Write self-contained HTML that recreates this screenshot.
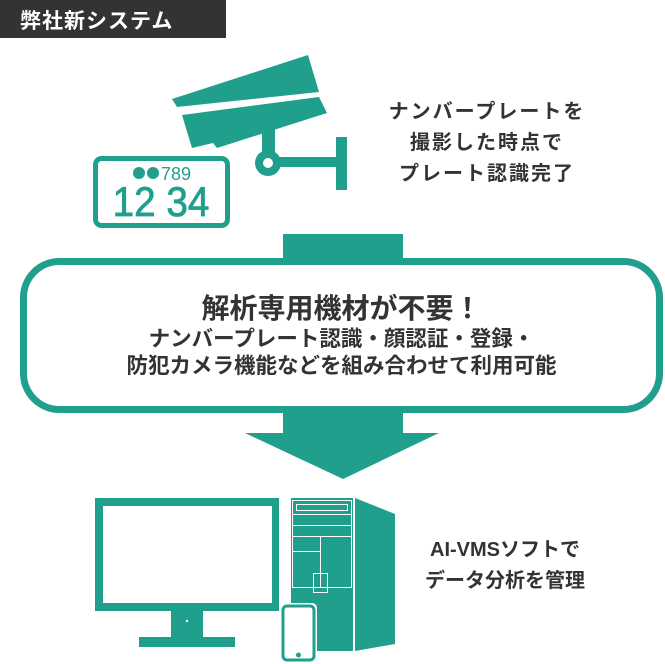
<!DOCTYPE html>
<html><head><meta charset="utf-8"><style>
body{margin:0;width:665px;height:664px;background:#fff;overflow:hidden;position:relative;font-family:"Liberation Sans","Noto Sans CJK JP",sans-serif}
.t{position:absolute;color:#333;font-weight:bold;white-space:nowrap}
</style></head><body>
<div style="position:absolute;left:0;top:0;width:226px;height:38px;background:#333"></div>
<div class="t" style="left:20px;top:5px;font-size:21px;color:#fff;letter-spacing:1px">弊社新システム</div>
<svg width="665" height="664" style="position:absolute;left:0;top:0">
<g fill="#20a08c">
<polygon points="172,99 308,55 319,92 177,107"/>
<polygon points="182,115 319,97 327,113 217,148 213,143 192,148"/>
<rect x="262" y="128" width="13" height="30"/>
<circle cx="268" cy="163" r="13"/>
<rect x="275" y="157" width="62" height="10"/>
<rect x="336" y="137" width="11" height="53"/>
<rect x="283" y="234" width="120" height="30"/>
<rect x="283" y="408" width="120" height="27"/>
<polygon points="245,433 439,433 343,479"/>
<rect x="95" y="498" width="184" height="113"/>
<rect x="171" y="610" width="32" height="28"/>
<rect x="139" y="637" width="96" height="10"/>
<rect x="291" y="498" width="62" height="153"/>
<polygon points="355,498 395,514 395,644 355,651"/>
</g>
<circle cx="268" cy="163" r="5" fill="#fff"/>
<rect x="95.5" y="158.5" width="132" height="67" rx="6" fill="#fff" stroke="#20a08c" stroke-width="5"/>
<circle cx="139" cy="173" r="6" fill="#20a08c"/>
<circle cx="153" cy="173" r="6" fill="#20a08c"/>
<text x="161" y="180" font-size="18" fill="#20a08c" font-family="Liberation Sans">789</text>
<text x="161" y="216" font-size="42" fill="#20a08c" stroke="#20a08c" stroke-width="0.8" text-anchor="middle" font-family="Liberation Sans" transform="translate(161 0) scale(0.92 1) translate(-161 0)">12 34</text>
<rect x="23.5" y="261.5" width="636" height="148" rx="36" fill="#fff" stroke="#20a08c" stroke-width="7"/>
<rect x="103" y="506" width="169" height="97" fill="#fff"/>
<circle cx="187" cy="621" r="1.2" fill="#fff"/>
<g fill="none" stroke="#fff" stroke-width="1">
<rect x="292.5" y="500.5" width="59" height="87"/>
<rect x="296.5" y="504.5" width="51" height="6"/>
<line x1="292" y1="514.5" x2="352" y2="514.5"/>
<line x1="292" y1="525.5" x2="352" y2="525.5"/>
<line x1="292" y1="536.5" x2="352" y2="536.5"/>
<line x1="320.5" y1="536" x2="320.5" y2="588"/>
<line x1="292" y1="551.5" x2="320" y2="551.5"/>
<rect x="313.5" y="573.5" width="14" height="19"/>
</g>
<rect x="353" y="498" width="2" height="153" fill="#fff"/>
<rect x="280" y="603" width="37" height="60" rx="5" fill="#fff"/>
<rect x="283" y="606" width="31" height="54" rx="4" fill="#fff" stroke="#20a08c" stroke-width="3"/>
<circle cx="298.5" cy="655" r="2.5" fill="#20a08c"/>
</svg>
<div class="t" style="left:376px;top:97px;font-size:20px;line-height:31px;text-align:center;width:222px;letter-spacing:2px">ナンバープレートを<br>撮影した時点で<br>プレート認識完了</div>
<div class="t" style="left:0;width:683px;top:287px;font-size:28px;text-align:center">解析専用機材が不要！</div>
<div class="t" style="left:0;width:683px;top:326px;font-size:21.5px;line-height:27px;text-align:center">ナンバープレート認識・顔認証・登録・<br>防犯カメラ機能などを組み合わせて利用可能</div>
<div class="t" style="left:410px;top:535px;font-size:20px;line-height:31px;text-align:center;width:190px">AI-VMSソフトで<br>データ分析を管理</div>
</body></html>
